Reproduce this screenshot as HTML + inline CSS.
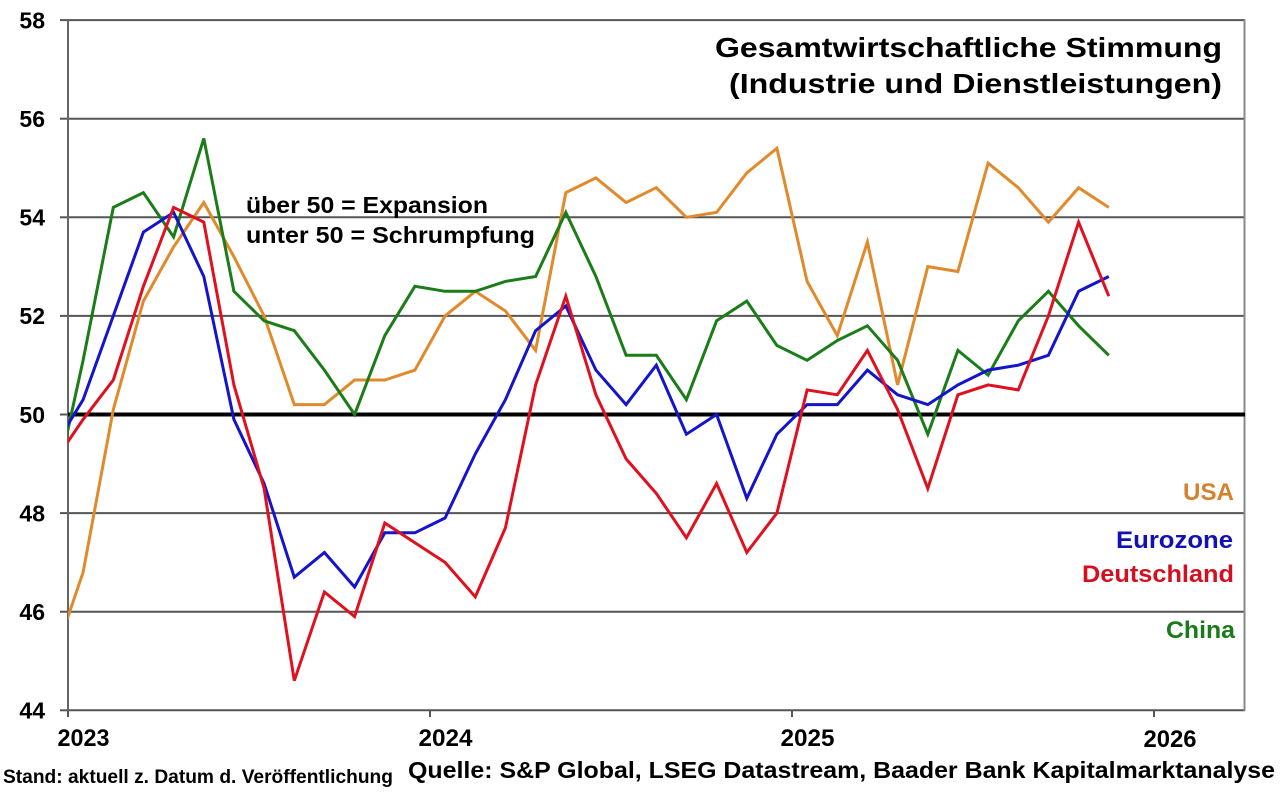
<!DOCTYPE html>
<html>
<head>
<meta charset="utf-8">
<style>
  html,body{margin:0;padding:0;background:#fff;}
  svg{display:block;}
  text{font-family:"Liberation Sans",Arial,sans-serif;font-weight:bold;fill:#000;}
</style>
</head>
<body>
<svg width="1280" height="792" viewBox="0 0 1280 792" xmlns="http://www.w3.org/2000/svg">
  <defs>
    <clipPath id="plot"><rect x="68" y="0" width="1176" height="792"/></clipPath>
  </defs>
  <rect width="1280" height="792" fill="#fff"/>

  <!-- gridlines -->
  <g stroke="#555" stroke-width="2">
    <line x1="68" y1="20.1" x2="1245" y2="20.1"/>
    <line x1="68" y1="118.7" x2="1245" y2="118.7"/>
    <line x1="68" y1="217.3" x2="1245" y2="217.3"/>
    <line x1="68" y1="315.9" x2="1245" y2="315.9"/>
    <line x1="68" y1="513.1" x2="1245" y2="513.1"/>
    <line x1="68" y1="611.7" x2="1245" y2="611.7"/>
    <line x1="68" y1="710.3" x2="1245" y2="710.3"/>
  </g>
  <!-- y ticks -->
  <g stroke="#555" stroke-width="2">
    <line x1="60" y1="20.1" x2="68" y2="20.1"/>
    <line x1="60" y1="118.7" x2="68" y2="118.7"/>
    <line x1="60" y1="217.3" x2="68" y2="217.3"/>
    <line x1="60" y1="315.9" x2="68" y2="315.9"/>
    <line x1="60" y1="414.5" x2="68" y2="414.5"/>
    <line x1="60" y1="513.1" x2="68" y2="513.1"/>
    <line x1="60" y1="611.7" x2="68" y2="611.7"/>
    <line x1="60" y1="710.3" x2="68" y2="710.3"/>
  </g>
  <!-- x ticks -->
  <g stroke="#555" stroke-width="2">
    <line x1="68" y1="710" x2="68" y2="717"/>
    <line x1="430" y1="710" x2="430" y2="717"/>
    <line x1="792" y1="710" x2="792" y2="717"/>
    <line x1="1154" y1="710" x2="1154" y2="717"/>
  </g>
  <!-- axes -->
  <line x1="68" y1="20" x2="68" y2="711" stroke="#666" stroke-width="2"/>
  <line x1="1244.5" y1="19" x2="1244.5" y2="711" stroke="#888" stroke-width="2"/>
  <!-- 50 line -->
  <line x1="68" y1="414.5" x2="1245" y2="414.5" stroke="#000" stroke-width="4"/>

  <!-- series -->
  <g clip-path="url(#plot)" fill="none" stroke-width="3" stroke-linejoin="miter" stroke-miterlimit="4">
    <polyline stroke="#E08A2B" points="52.9,661.0 83.1,572.3 113.3,409.6 143.4,301.1 173.6,246.9 203.8,202.5 233.9,256.7 264.1,315.9 294.3,404.6 324.4,404.6 354.6,380.0 384.8,380.0 414.9,370.1 445.1,315.9 475.3,291.3 505.4,311.0 535.6,350.4 565.8,192.7 595.9,177.9 626.1,202.5 656.3,187.7 686.4,217.3 716.6,212.4 746.8,172.9 776.9,148.3 807.1,281.4 837.3,335.6 867.4,242.0 897.6,384.9 927.8,266.6 957.9,271.5 988.1,163.1 1018.3,187.7 1048.4,222.2 1078.6,187.7 1108.8,207.4"/>
    <polyline stroke="#1A7D1A" points="52.9,498.3 83.1,360.3 113.3,207.4 143.4,192.7 173.6,237.0 203.8,138.4 233.9,291.3 264.1,320.8 294.3,330.7 324.4,370.1 354.6,414.5 384.8,335.6 414.9,286.3 445.1,291.3 475.3,291.3 505.4,281.4 535.6,276.5 565.8,212.4 595.9,276.5 626.1,355.3 656.3,355.3 686.4,399.7 716.6,320.8 746.8,301.1 776.9,345.5 807.1,360.3 837.3,340.5 867.4,325.8 897.6,360.3 927.8,434.2 957.9,350.4 988.1,375.1 1018.3,320.8 1048.4,291.3 1078.6,325.8 1108.8,355.3"/>
    <polyline stroke="#1414CC" points="52.9,449.0 83.1,399.7 113.3,315.9 143.4,232.1 173.6,212.4 203.8,276.5 233.9,419.4 264.1,483.5 294.3,577.2 324.4,552.5 354.6,587.0 384.8,532.8 414.9,532.8 445.1,518.0 475.3,453.9 505.4,399.7 535.6,330.7 565.8,306.0 595.9,370.1 626.1,404.6 656.3,365.2 686.4,434.2 716.6,414.5 746.8,498.3 776.9,434.2 807.1,404.6 837.3,404.6 867.4,370.1 897.6,394.8 927.8,404.6 957.9,384.9 988.1,370.1 1018.3,365.2 1048.4,355.3 1078.6,291.3 1108.8,276.5"/>
    <polyline stroke="#E0101E" points="52.9,463.8 83.1,419.4 113.3,380.0 143.4,286.3 173.6,207.4 203.8,222.2 233.9,384.9 264.1,488.5 294.3,680.7 324.4,592.0 354.6,616.6 384.8,523.0 414.9,542.7 445.1,562.4 475.3,596.9 505.4,527.9 535.6,384.9 565.8,296.2 595.9,394.8 626.1,458.9 656.3,493.4 686.4,537.8 716.6,483.5 746.8,552.5 776.9,513.1 807.1,389.9 837.3,394.8 867.4,350.4 897.6,409.6 927.8,488.5 957.9,394.8 988.1,384.9 1018.3,389.9 1048.4,315.9 1078.6,222.2 1108.8,296.2"/>
  </g>

  <!-- y labels -->
  <g font-size="23" text-anchor="end">
    <text x="45" y="28.4">58</text>
    <text x="45" y="127">56</text>
    <text x="45" y="225.6">54</text>
    <text x="45" y="324.2">52</text>
    <text x="45" y="422.8">50</text>
    <text x="45" y="521.4">48</text>
    <text x="45" y="620">46</text>
    <text x="45" y="718.6">44</text>
  </g>

  <!-- x labels -->
  <g font-size="24" text-anchor="middle">
    <text x="83.5" y="746" textLength="52" lengthAdjust="spacingAndGlyphs">2023</text>
    <text x="445.5" y="746" textLength="54" lengthAdjust="spacingAndGlyphs">2024</text>
    <text x="807.5" y="746" textLength="54" lengthAdjust="spacingAndGlyphs">2025</text>
    <text x="1170" y="747" textLength="53" lengthAdjust="spacingAndGlyphs">2026</text>
  </g>

  <!-- title -->
  <text x="715" y="57" font-size="28" textLength="507" lengthAdjust="spacingAndGlyphs">Gesamtwirtschaftliche Stimmung</text>
  <text x="729" y="93" font-size="28" textLength="493" lengthAdjust="spacingAndGlyphs">(Industrie und Dienstleistungen)</text>

  <!-- annotation -->
  <text x="246" y="213" font-size="23" textLength="242" lengthAdjust="spacingAndGlyphs">über 50 = Expansion</text>
  <text x="246" y="243" font-size="23" textLength="289" lengthAdjust="spacingAndGlyphs">unter 50 = Schrumpfung</text>

  <!-- series labels -->
  <text x="1183" y="500" font-size="24" fill="#D4822E" style="fill:#D4822E" textLength="51" lengthAdjust="spacingAndGlyphs">USA</text>
  <text x="1116" y="548" font-size="24" style="fill:#1212B4" textLength="117" lengthAdjust="spacingAndGlyphs">Eurozone</text>
  <text x="1082" y="582" font-size="24" style="fill:#D41020" textLength="152" lengthAdjust="spacingAndGlyphs">Deutschland</text>
  <text x="1166" y="638" font-size="24" style="fill:#1A7A1A" textLength="69" lengthAdjust="spacingAndGlyphs">China</text>

  <!-- footer -->
  <text x="3" y="783" font-size="19" textLength="390" lengthAdjust="spacingAndGlyphs">Stand: aktuell z. Datum d. Veröffentlichung</text>
  <text x="408" y="778" font-size="23" textLength="867" lengthAdjust="spacingAndGlyphs">Quelle: S&amp;P Global, LSEG Datastream, Baader Bank Kapitalmarktanalyse</text>
</svg>
</body>
</html>
